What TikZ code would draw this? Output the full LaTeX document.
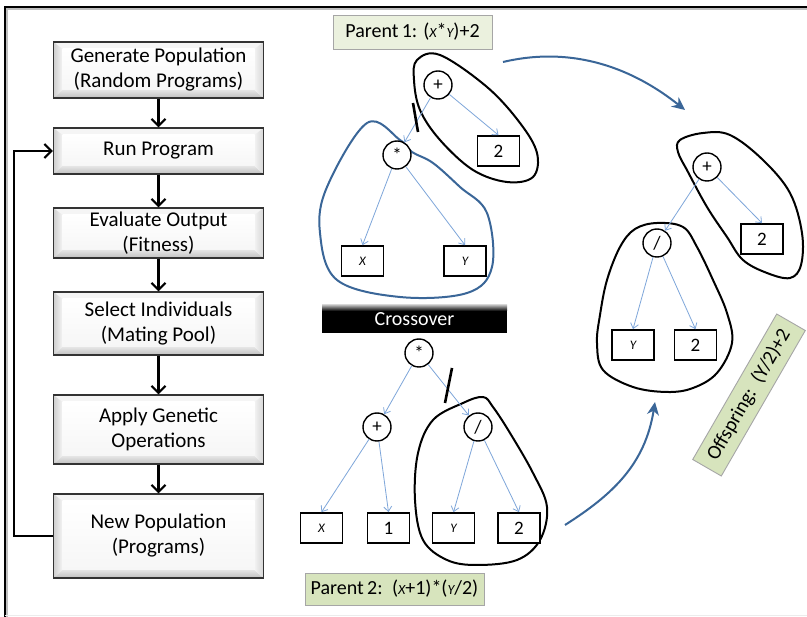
\documentclass[tikz,border=0pt]{standalone}
\usepackage{fontspec}
\setmainfont{Carlito}
\usetikzlibrary{arrows.meta}
\definecolor{edgeblue}{HTML}{7EA6DA}
\definecolor{darkblue}{HTML}{3A6698}
\definecolor{paleg}{HTML}{EBF1DE}
\definecolor{greeng}{HTML}{D7E4BD}
\newcommand\flowbox[6]{%
  \pgfmathsetmacro\bxa{#2-#4/2}\pgfmathsetmacro\bxb{#2+#4/2}%
  \pgfmathsetmacro\bya{#3-#5/2}\pgfmathsetmacro\byb{#3+#5/2}%
  \fill[gray!8] (\bxa,\bya) -- (\bxb,\bya) -- (\bxb-8,\bya+7) -- (\bxa+8,\bya+7) -- cycle;
  \shade[left color=gray!38,right color=gray!8] (\bxa,\bya) -- (\bxa+9,\bya+7) -- (\bxa+9,\byb-8) -- (\bxa,\byb) -- cycle;
  \shade[top color=gray!20,bottom color=gray!50] (\bxa,\byb) -- (\bxa+9,\byb-8) -- (\bxb-9,\byb-8) -- (\bxb,\byb) -- cycle;
  \shade[left color=gray!10,right color=gray!32] (\bxb,\bya) -- (\bxb,\byb) -- (\bxb-9,\byb-8) -- (\bxb-9,\bya+7) -- cycle;
  \shade[top color=white,bottom color=gray!7] (\bxa+9,\bya+7) rectangle (\bxb-9,\byb-8);
  \node[flowtext,minimum width=#4pt,minimum height=#5pt] (#1) at (#2,#3) {#6};
}
\begin{document}
\begin{tikzpicture}[x=1pt,y=-1pt,
  flowtext/.style={draw=gray!40!black,line width=1.2pt,align=center,inner sep=0pt,
     font=\fontsize{21}{25}\selectfont},
  flowarrow/.style={line width=2.4pt,-{Straight Barb[length=7pt,width=14pt,line width=2.2pt]}},
  opnode/.style={circle,draw,line width=1.4pt,fill=white,minimum size=28pt,inner sep=0pt,
     font=\fontsize{19}{19}\selectfont},
  leaf/.style={rectangle,draw,line width=1.7pt,fill=white,minimum width=42pt,minimum height=30pt,
     inner sep=0pt,font=\fontsize{19}{19}\selectfont},
  treeedge/.style={draw=edgeblue,line width=0.8pt,-{Straight Barb[length=5pt,width=8pt]}},
  loopline/.style={line width=2pt,line join=round},
  cutmark/.style={line width=2.6pt},
  bigarrow/.style={draw=darkblue,line width=2pt,-{Stealth[length=13pt,width=12pt]}},
  label/.style={draw=gray!70,line width=0.9pt,inner sep=0pt,font=\fontsize{20}{20}\selectfont}]
\useasboundingbox (0,0) rectangle (807,617);
\fill[white] (0,0) rectangle (807,617);
% frame
\draw[gray!50,line width=1.5pt] (7,619) -- (7,9) -- (807,9);
\draw[line width=2.2pt] (5,617) -- (5,7) -- (807,7);
\draw[gray!15,line width=1pt] (5,615.5) -- (807,615.5);

% flow chart
\flowbox{b1}{158.5}{70}{210}{56}{Generate Population\\(Random Programs)}
\flowbox{b2}{158.5}{151}{210}{46}{Run Program}
\flowbox{b3}{158.5}{233}{210}{50}{Evaluate Output\\(Fitness)}
\flowbox{b4}{158.5}{323.5}{210}{63}{Select Individuals\\(Mating Pool)}
\flowbox{b5}{158.5}{429.5}{210}{69}{Apply Genetic\\Operations}
\flowbox{b6}{158.5}{536}{210}{84}{New Population\\(Programs)}
\draw[flowarrow] (b1) -- (b2);
\draw[flowarrow] (b2) -- (b3);
\draw[flowarrow] (b3) -- (b4);
\draw[flowarrow] (b4) -- (b5);
\draw[flowarrow] (b5) -- (b6);
\draw[flowarrow] (b6.west) -- ++(-39,0) |- (b2.west);

% labels
\node[label,fill=paleg,minimum width=159pt,minimum height=34pt] (p1lab) at (412.5,32)
  {Parent\,1: ({\fontsize{14}{14}\itshape X}*{\fontsize{14}{14}\itshape Y})+2};
\node[label,fill=greeng,minimum width=179pt,minimum height=32pt] (p2lab) at (394.5,589)
  {Parent\,2: \,({\fontsize{14}{14}\itshape X}+1)*({\fontsize{14}{14}\itshape Y}/2)};
\node[label,fill=greeng,minimum width=168pt,minimum height=33pt,rotate=60] (offlab) at (749,395)
  {Offspring: \,(Y/2)+2};
\fill[black] (322,305) rectangle (507,333);
\shade[top color=gray!55,bottom color=black] (322,305) rectangle (507,311);
\node[fill=none,text=white,minimum width=185pt,minimum height=28pt,inner sep=0pt,
  font=\fontsize{20}{20}\selectfont] (xover) at (414.5,319) {Crossover};

% parent 1 tree
\draw[loopline] plot[smooth cycle,tension=0.6] coordinates {(417,60) (440,55) (487,87) (520,123) (537,153) (533,177) (507,182) (473,170) (440,140) (420,110) (414,80)};
\draw[loopline,darkblue] plot[smooth cycle,tension=0.6] coordinates {(400,140) (367,123) (327,187) (320,233) (337,280) (400,297) (467,293) (492,267) (487,213) (460,187) (433,163) (412,152)};
\node[opnode] (a1) at (438,85) {+};
\node[leaf] (a2) at (498.5,151) {2};
\node[opnode] (a3) at (397,155) {*};
\node[leaf] (a4) at (362.5,261) {\fontsize{13}{13}\itshape X};
\node[leaf] (a5) at (465,261) {\fontsize{13}{13}\itshape Y};
\draw[treeedge] (a1) -- (a2.north);
\draw[treeedge] (a1) -- (a3);
\draw[treeedge] (a3) -- (a4.north);
\draw[treeedge] (a3) -- (a5.north);
\coordinate (cut1a) at (413,103);
\coordinate (cut1b) at (418,132);
\draw[cutmark] (cut1a) -- (cut1b);

% parent 2 tree
\draw[loopline] plot[smooth cycle,tension=0.6] coordinates {(483,397) (463,403) (433,420) (418,453) (415,500) (423,540) (447,560) (477,565) (517,560) (540,540) (547,507) (533,473) (510,433) (493,407)};
\node[opnode] (c1) at (419,353) {*};
\node[opnode] (c2) at (377,427) {+};
\node[opnode] (c3) at (478,427) {/};
\node[leaf] (c4) at (321.5,528) {\fontsize{13}{13}\itshape X};
\node[leaf] (c5) at (388.5,528) {1};
\node[leaf] (c6) at (453.5,528) {\fontsize{13}{13}\itshape Y};
\node[leaf] (c7) at (519,528) {2};
\draw[treeedge] (c1) -- (c2);
\draw[treeedge] (c1) -- (c3);
\draw[treeedge] (c2) -- (c4.north);
\draw[treeedge] (c2) -- (c5.north);
\draw[treeedge] (c3) -- (c6.north);
\draw[treeedge] (c3) -- (c7.north);
\coordinate (cut2a) at (452,368);
\coordinate (cut2b) at (445,403);
\draw[cutmark] (cut2a) -- (cut2b);

% offspring tree
\draw[loopline] plot[smooth cycle,tension=0.6] coordinates {(680,140) (703,133) (730,135) (763,160) (790,193) (802,233) (801,265) (790,278) (767,273) (743,260) (727,237) (707,207) (688,172) (678,152)};
\draw[loopline] plot[smooth cycle,tension=0.6] coordinates {(657,223) (683,227) (697,247) (713,280) (727,313) (732,343) (717,373) (693,388) (667,392) (633,387) (603,370) (597,343) (600,315) (607,280) (620,247) (635,229)};
\node[opnode] (o1) at (707,167) {+};
\node[leaf] (o2) at (762,239) {2};
\node[opnode] (o3) at (657,243) {/};
\node[leaf] (o4) at (633,345) {\fontsize{13}{13}\itshape Y};
\node[leaf] (o5) at (695.5,345) {2};
\draw[treeedge] (o1) -- (o3);
\draw[treeedge] (o1) -- (o2.north);
\draw[treeedge] (o3) -- (o4.north);
\draw[treeedge] (o3) -- (o5.north);

% big arrows
\coordinate (ar1s) at (503,62);
\coordinate (ar1e) at (685,110);
\coordinate (ar2s) at (565,525);
\coordinate (ar2e) at (655,402);
\draw[bigarrow] (ar1s) .. controls (575,45) and (635,70) .. (ar1e);
\draw[bigarrow] (ar2s) .. controls (612,495) and (645,465) .. (ar2e);
\end{tikzpicture}
\end{document}
